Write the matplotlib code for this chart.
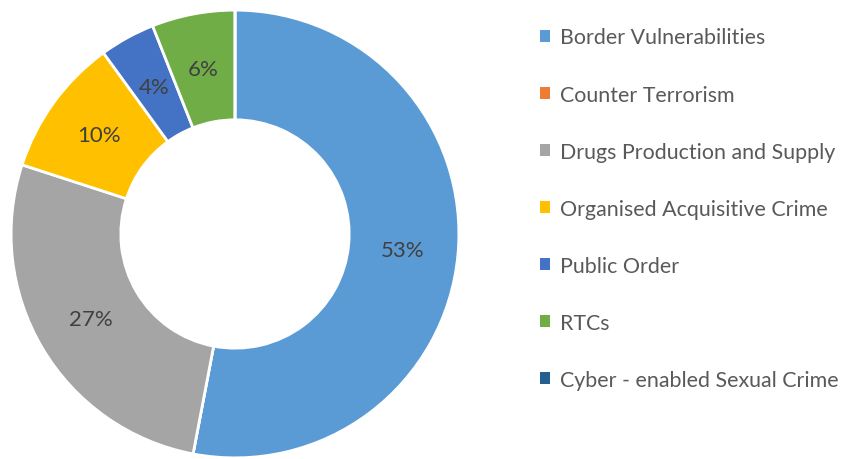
"""Donut chart of demand share by crime category."""

import matplotlib.pyplot as plt
from matplotlib.patches import Patch

categories = [
    "Border Vulnerabilities",
    "Counter Terrorism",
    "Drugs Production and Supply",
    "Organised Acquisitive Crime",
    "Public Order",
    "RTCs",
    "Cyber - enabled Sexual Crime",
]
shares = [53, 0, 27, 10, 4, 6, 0]
colors = ["#5B9BD5", "#ED7D31", "#A5A5A5", "#FFC000", "#4472C4", "#70AD47", "#255E91"]

plt.rcParams["font.family"] = ["Lato", "DejaVu Sans"]

fig = plt.figure(figsize=(8.48, 4.6), dpi=100)
ax = fig.add_axes([10 / 848, 0, 450 / 848, 450 / 460])

wedges, texts, autotexts = ax.pie(
    shares,
    colors=colors,
    startangle=90,
    counterclock=False,
    autopct=lambda p: f"{p:.0f}%" if p > 0.5 else "",
    pctdistance=0.75,
    wedgeprops=dict(width=0.49, edgecolor="white", linewidth=2),
    textprops=dict(color="#404040", fontsize=16),
)
ax.set_aspect("equal")
ax.set_xlim(-1.005, 1.005)
ax.set_ylim(-1.005, 1.005)

handles = [Patch(facecolor=c, edgecolor="none") for c in colors]
fig.legend(
    handles,
    categories,
    loc="upper left",
    bbox_to_anchor=(540 / 848, 1 - 28.5 / 460),
    frameon=False,
    fontsize=15.4,
    labelcolor="#595959",
    handlelength=0.47,
    handleheight=0.47,
    handletextpad=0.45,
    labelspacing=1.73,
    borderaxespad=0,
    borderpad=0,
)

fig.savefig("out.png", dpi=100)
